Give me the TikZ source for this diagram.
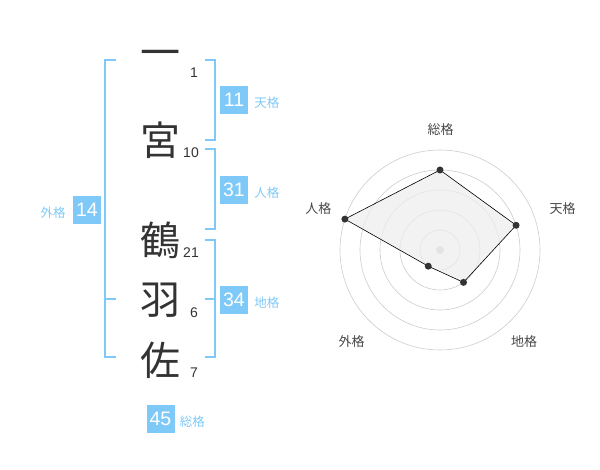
\documentclass[tikz,border=0pt]{standalone}
\usepackage{fontspec}
\setmainfont{Liberation Sans}
\newfontfamily\jp{Noto Sans CJK JP}
\usetikzlibrary{positioning}
\definecolor{kakublue}{HTML}{7FC9F8}
\definecolor{inkgray}{HTML}{333333}
\definecolor{ringgray}{HTML}{CCCCCC}
\begin{document}
\begin{tikzpicture}[x=1pt,y=-1pt,
    kanji/.style={font=\jp\fontsize{40}{40}\selectfont, text=inkgray, inner sep=0},
    kakusu/.style={font=\fontsize{14}{14}\selectfont, text=inkgray, inner sep=0, anchor=east},
    kakubox/.style={fill=kakublue, text=white, minimum size=28pt, inner sep=0,
      font=\fontsize{19.5}{19.5}\selectfont},
    kakulbl/.style={font=\jp\fontsize{12.5}{12.5}\selectfont, text=kakublue, inner sep=0},
    brace/.style={draw=kakublue, line width=1.6pt},
    ring/.style={draw=ringgray, line width=0.6pt},
    poly/.style={draw=black, line width=0.6pt, fill=black!7, fill opacity=0.75},
    axislbl/.style={font=\jp\fontsize{13}{13}\selectfont, text=inkgray!90, inner sep=0}]
  \useasboundingbox (0,0) rectangle (600,470);
  % name
  \node[kanji] (c1) at (160,59) {一};
  \node[kanji] (c2) at (160,140) {宮};
  \node[kanji] (c3) at (160,240) {鶴};
  \node[kanji] (c4) at (160,300) {羽};
  \node[kanji] (c5) at (160,360) {佐};
  \node[kakusu] (n1) at (198,73) {1};
  \node[kakusu] (n2) at (199,153) {10};
  \node[kakusu] (n3) at (199,253) {21};
  \node[kakusu] (n4) at (198,313) {6};
  \node[kakusu] (n5) at (198,373) {7};
  % brackets
  \draw[brace] (116,60) -| (105,357) -- (116,357);
  \draw[brace] (105,299) -- (116,299);
  \draw[brace] (205,60) -| (215,140) -- (205,140);
  \draw[brace] (205,149) -| (215,229) -- (205,229);
  \draw[brace] (205,240) -| (215,357) -- (205,357);
  \draw[brace] (215,299) -- (205,299);
  % totals
  \node[kakubox] (b11) at (234,100) {11};
  \node[kakubox] (b31) at (234,190) {31};
  \node[kakubox] (b34) at (234,300) {34};
  \node[kakubox] (b14) at (87,210) {14};
  \node[kakubox] (b45) at (160.5,419) {45};
  \node[kakulbl, right=6pt of b11, yshift=-3pt] (l11) {天格};
  \node[kakulbl, right=6pt of b31, yshift=-3pt] (l31) {人格};
  \node[kakulbl, right=6pt of b34, yshift=-3pt] (l34) {地格};
  \node[kakulbl, left=7pt of b14, yshift=-3pt] (l14) {外格};
  \node[kakulbl, right=5pt of b45, yshift=-3pt] (l45) {総格};
  % radar
  \begin{scope}[shift={(440,250)}, yscale=-1]
    \foreach \r in {20,40,...,100}
      \draw[ring] (0,0) circle (\r pt);
    \fill[ringgray] (0,0) circle (4pt);
    \coordinate (sou) at (90:80);
    \coordinate (ten) at (18:80);
    \coordinate (chi) at (-54:40);
    \coordinate (gai) at (-126:20);
    \coordinate (jin) at (162:100);
    \filldraw[poly] (sou) -- (ten) -- (chi) -- (gai) -- (jin) -- cycle;
    \foreach \p in {sou,ten,chi,gai,jin}
      \fill[inkgray] (\p) circle (3.5pt);
    \node[axislbl] (a1) at (0.7,120) {総格};
    \node[axislbl] (a2) at (122.7,41.7) {天格};
    \node[axislbl] (a3) at (84,-91.7) {地格};
    \node[axislbl] (a4) at (-88.3,-91.7) {外格};
    \node[axislbl] (a5) at (-121.7,41.7) {人格};
  \end{scope}
\end{tikzpicture}
\end{document}
